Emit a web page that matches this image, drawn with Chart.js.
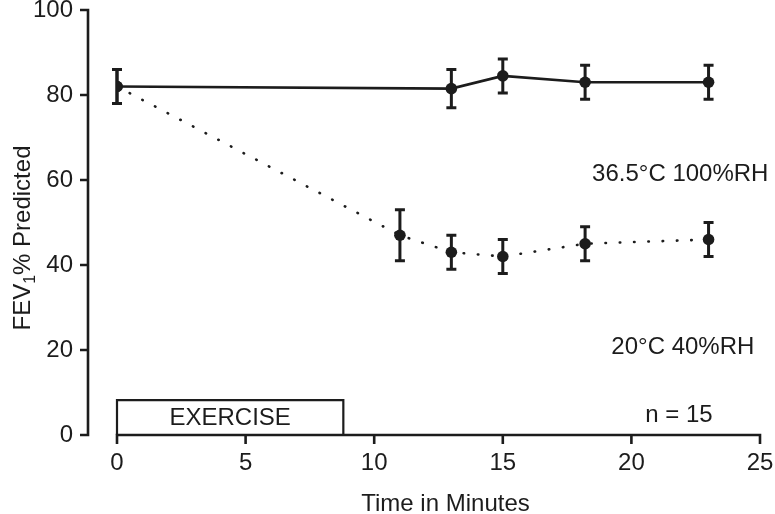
<!DOCTYPE html>
<html><head><meta charset="utf-8">
<script src="https://cdn.jsdelivr.net/npm/chart.js@4/dist/chart.umd.min.js"></script>
<style>html,body{margin:0;padding:0;background:#fff}#wrap{width:775px;height:514px}</style>
</head><body><div id="wrap"><canvas id="c" width="775" height="514"></canvas></div>
<script>
// ---- data ----
const timesWarm = [0, 13, 15, 18.2, 23];
const fevWarm   = [82, 81.5, 84.5, 83, 83];
const errWarm   = [4, 4.5, 4, 4, 4];
const timesCold = [0, 11, 13, 15, 18.2, 23];
const fevCold   = [82, 47, 43, 42, 45, 46];
const errCold   = [4, 6, 4, 4, 4, 4];
const xTicks = [0, 5, 10, 15, 20, 25];
const yTicks = [0, 20, 40, 60, 80, 100];
const exerciseStart = 0, exerciseEnd = 8.8, exerciseTop = 8.2;
const noteTexts = ['36.5°C 100%RH', '20°C 40%RH', 'n = 15'];
const noteX = [21.9, 22.0, 21.85];
const noteY = [61.4, 20.7, 4.6];
const exerciseLabel = 'EXERCISE';
const exerciseLabelX = 4.4, exerciseLabelY = 4.0;
const xTitle = 'Time in Minutes';

const INK = '#1c1c1c';
const FONT = '"Liberation Sans", Arial, Helvetica, sans-serif';
const FS = 24;

function pts(xs, ys, es){ return xs.map((x,i)=>({x:x, y:ys[i], e:es[i]})); }

const overlay = {
  id: 'overlay',
  beforeDatasetsDraw(chart){
    const {ctx, scales:{x, y}} = chart;
    ctx.save();
    // exercise box
    ctx.strokeStyle = INK; ctx.lineWidth = 2.2;
    const x0 = x.getPixelForValue(exerciseStart), x1 = x.getPixelForValue(exerciseEnd);
    const yb = y.getPixelForValue(0), yt = y.getPixelForValue(exerciseTop);
    ctx.beginPath();
    ctx.moveTo(x0, yb); ctx.lineTo(x0, yt); ctx.lineTo(x1, yt); ctx.lineTo(x1, yb);
    ctx.stroke();
    // error bars
    ctx.lineWidth = 3; ctx.lineCap = 'butt';
    chart.data.datasets.forEach(ds => {
      ds.data.forEach(p => {
        const px = x.getPixelForValue(p.x);
        const top = y.getPixelForValue(p.y + p.e), bot = y.getPixelForValue(p.y - p.e);
        ctx.beginPath();
        ctx.moveTo(px, top); ctx.lineTo(px, bot);
        ctx.moveTo(px-5, top); ctx.lineTo(px+5, top);
        ctx.moveTo(px-5, bot); ctx.lineTo(px+5, bot);
        ctx.stroke();
      });
    });
    ctx.restore();
  },
  afterDraw(chart){
    const {ctx, chartArea, scales:{x, y}} = chart;
    ctx.save();
    ctx.strokeStyle = INK; ctx.fillStyle = INK; ctx.lineWidth = 2.6; ctx.lineCap = 'butt';
    // y axis (detached)
    const ax = chartArea.left - 29;
    ctx.beginPath();
    ctx.moveTo(ax, y.getPixelForValue(yTicks[yTicks.length-1]) - 1.3);
    ctx.lineTo(ax, y.getPixelForValue(yTicks[0]) + 1.3);
    yTicks.forEach(v => { const py = y.getPixelForValue(v); ctx.moveTo(ax, py); ctx.lineTo(ax-8, py); });
    ctx.stroke();
    // x axis
    const ay = chartArea.bottom;
    ctx.beginPath();
    ctx.moveTo(x.getPixelForValue(xTicks[0]) - 1.3, ay);
    ctx.lineTo(x.getPixelForValue(xTicks[xTicks.length-1]) + 1.3, ay);
    xTicks.forEach(v => { const px = x.getPixelForValue(v); ctx.moveTo(px, ay); ctx.lineTo(px, ay+9); });
    ctx.stroke();
    // notes
    ctx.font = FS + 'px ' + FONT;
    ctx.textAlign = 'center'; ctx.textBaseline = 'middle';
    noteTexts.forEach((t,i) => ctx.fillText(t, x.getPixelForValue(noteX[i]), y.getPixelForValue(noteY[i])));
    ctx.fillText(exerciseLabel, x.getPixelForValue(exerciseLabelX), y.getPixelForValue(exerciseLabelY));
    // x title
    ctx.textBaseline = 'alphabetic';
    ctx.fillText(xTitle, (chartArea.left + chartArea.right)/2 + 7, 511);
    // y title with subscript
    ctx.translate(30, 238);
    ctx.rotate(-Math.PI/2);
    ctx.textAlign = 'left'; ctx.textBaseline = 'alphabetic';
    const big = FS + 'px ' + FONT, small = '16px ' + FONT;
    ctx.font = big; const w1 = ctx.measureText('FEV').width, w3 = ctx.measureText('% Predicted').width;
    ctx.font = small; const w2 = ctx.measureText('1').width;
    let sx = -(w1 + w2 + w3)/2;
    ctx.font = big; ctx.fillText('FEV', sx, 0); sx += w1;
    ctx.font = small; ctx.fillText('1', sx, 5); sx += w2;
    ctx.font = big; ctx.fillText('% Predicted', sx, 0);
    ctx.restore();
  }
};

new Chart(document.getElementById('c'), {
  type: 'scatter',
  data: {
    datasets: [
      { data: pts(timesWarm, fevWarm, errWarm), showLine: true, borderColor: INK, backgroundColor: INK,
        borderWidth: 2.6, pointRadius: 5.8, pointBorderWidth: 0, tension: 0 },
      { data: pts(timesCold, fevCold, errCold), showLine: true, borderColor: INK, backgroundColor: INK,
        borderWidth: 2.6, borderDash: [0.5, 13.8], borderCapStyle: 'round', pointRadius: 5.8, pointBorderWidth: 0, tension: 0 }
    ]
  },
  options: {
    responsive: false, animation: false, devicePixelRatio: 1,
    layout: { padding: { top: 10, right: 15, left: 0, bottom: 0 } },
    plugins: { legend: { display: false }, tooltip: { enabled: false } },
    scales: {
      x: {
        type: 'linear', min: xTicks[0], max: xTicks[xTicks.length-1],
        afterBuildTicks: s => { s.ticks = xTicks.map(v => ({value: v})); },
        afterFit: s => { s.height = 79; s.paddingLeft = 0; s.paddingRight = 0; },
        grid: { display: false }, border: { display: false },
        ticks: { font: { size: FS, family: FONT }, color: INK, padding: 6, maxRotation: 0 }
      },
      y: {
        min: yTicks[0], max: yTicks[yTicks.length-1],
        afterBuildTicks: s => { s.ticks = yTicks.map(v => ({value: v})); },
        afterFit: s => { s.width = 117; s.paddingTop = 0; s.paddingBottom = 0; },
        grid: { display: false }, border: { display: false },
        ticks: { font: { size: FS, family: FONT }, color: INK, padding: 36 }
      }
    }
  },
  plugins: [overlay]
});
</script>
</body></html>
